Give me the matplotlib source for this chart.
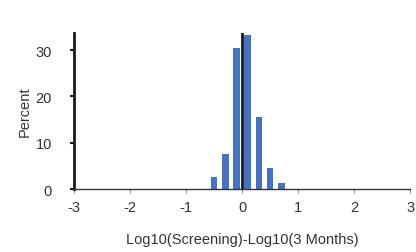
import matplotlib
matplotlib.use("Agg")
import matplotlib.pyplot as plt
import numpy as np

plt.rcParams['font.family'] = ['Liberation Sans', 'DejaVu Sans']

# histogram bins (centres) and percent in each
bin_centers = [-0.5, -0.3, -0.1, 0.1, 0.3, 0.5, 0.7]
percent = [2.7, 7.5, 30.5, 33.2, 15.5, 4.5, 1.3]
x_ticks = [-3, -2, -1, 0, 1, 2, 3]
y_ticks = [0, 10, 20, 30]

fig = plt.figure(figsize=(4.16, 2.53), dpi=100)
ax = fig.add_axes([0.178, 0.249, 0.808, 0.618])

ax.bar(bin_centers, percent, width=0.115, color='#4472C4', zorder=2)
ax.axvline(0, color='#1a1a1a', lw=2.0, zorder=3)

ax.set_xlim(-3, 3)
ax.set_ylim(0, 33.8)
ax.set_xticks(x_ticks)
ax.set_xticklabels([str(t) for t in x_ticks])
ax.set_yticks(y_ticks)

ax.spines['top'].set_visible(False)
ax.spines['right'].set_visible(False)
ax.spines['left'].set_linewidth(2.0)
ax.spines['left'].set_color('#1a1a1a')
ax.spines['bottom'].set_linewidth(1.0)
ax.spines['bottom'].set_color('#333333')
ax.spines['bottom'].set_zorder(4)

ax.tick_params(axis='x', length=3, width=0.8, color='#888888', labelsize=10.5, pad=5, labelcolor='#333333')
ax.tick_params(axis='y', length=3, width=1.5, color='#1a1a1a', labelsize=10.5, pad=13, labelcolor='#333333')

ax.set_xlabel('Log10(Screening)-Log10(3 Months)', fontsize=10.5, labelpad=13, color='#333333')
ax.set_ylabel('Percent', fontsize=10.5, labelpad=3, color='#333333')

fig.savefig('out.png', dpi=100)
